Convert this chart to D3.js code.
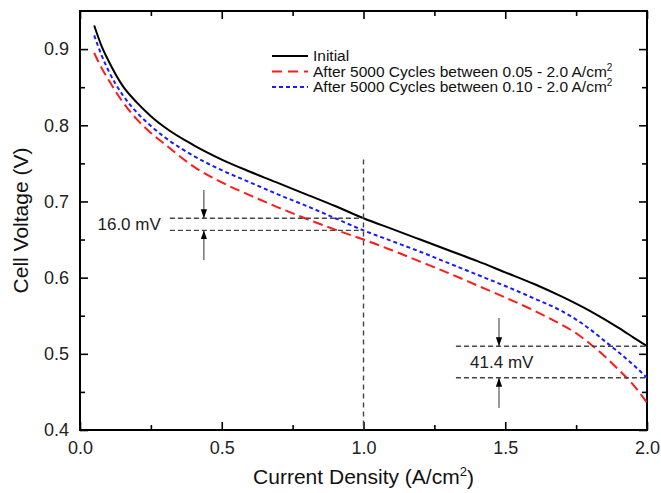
<!DOCTYPE html>
<meta charset="UTF-8">
<html>
<head>
<style>
  body { margin: 0; background: #fff; }
  text { font-family: Arial, "Liberation Sans", sans-serif; }
</style>
</head>
<body>
<svg width="661" height="493"></svg>
<script src="https://d3js.org/d3.v7.min.js"></script>
<script>

// Current density (A/cm2) and cell voltage (V).
var initialX = [0.05, 0.075, 0.1, 0.15, 0.2, 0.25, 0.3, 0.4, 0.5, 0.6, 0.7, 0.8, 0.9, 1.0,
                1.1, 1.2, 1.3, 1.4, 1.5, 1.6, 1.7, 1.8, 1.9, 1.95, 2.0];
var initialV = [0.931, 0.905, 0.885, 0.852, 0.830, 0.812, 0.797, 0.774, 0.755, 0.739, 0.724, 0.709, 0.694, 0.678,
                0.664, 0.650, 0.636, 0.622, 0.607, 0.592, 0.575, 0.556, 0.534, 0.522, 0.510];

var cyc05X = [0.05, 0.075, 0.1, 0.15, 0.2, 0.25, 0.3, 0.4, 0.5, 0.6, 0.7, 0.8, 0.9, 1.0,
              1.1, 1.2, 1.3, 1.4, 1.5, 1.6, 1.7, 1.75, 1.8, 1.85, 1.9, 1.95, 2.0];
var cyc05V = [0.895, 0.876, 0.860, 0.831, 0.808, 0.790, 0.775, 0.746, 0.725, 0.708, 0.692, 0.677, 0.663, 0.650,
              0.636, 0.621, 0.606, 0.590, 0.574, 0.557, 0.538, 0.527, 0.513, 0.497, 0.479, 0.460, 0.436];

var cyc10X = [0.05, 0.075, 0.1, 0.15, 0.2, 0.25, 0.3, 0.4, 0.5, 0.6, 0.7, 0.8, 0.9, 1.0,
              1.1, 1.2, 1.3, 1.4, 1.5, 1.6, 1.7, 1.75, 1.8, 1.85, 1.9, 1.95, 2.0];
var cyc10V = [0.918, 0.893, 0.872, 0.840, 0.817, 0.799, 0.784, 0.760, 0.741, 0.725, 0.709, 0.694, 0.678, 0.662,
              0.648, 0.634, 0.619, 0.604, 0.589, 0.573, 0.556, 0.545, 0.532, 0.517, 0.502, 0.486, 0.4686];

var legendLabels = ["Initial",
                    "After 5000 Cycles between 0.05 - 2.0 A/cm",
                    "After 5000 Cycles between 0.10 - 2.0 A/cm"];

var xTicks = [0.0, 0.5, 1.0, 1.5, 2.0];
var xMinor = [0.25, 0.75, 1.25, 1.75];
var yTicks = [0.4, 0.5, 0.6, 0.7, 0.8, 0.9];
var yMinor = [0.45, 0.55, 0.65, 0.75, 0.85];

// Annotations: voltage loss at 1.0 and 2.0 A/cm2
var drop1 = {x: 1.0, top: 0.678, bottom: 0.662, from: 0.317, arrowX: 0.437, tailTop: 0.715, tailBottom: 0.623, label: "16.0 mV"};
var drop2 = {x: 2.0, top: 0.510, bottom: 0.4686, from: 1.326, arrowX: 1.478, tailTop: 0.547, tailBottom: 0.429, label: "41.4 mV"};
var markerTop = 0.755;

var svg = d3.select("svg");
var margin = {left: 80, right: 14, top: 11, bottom: 63};
var width = +svg.attr("width") - margin.left - margin.right,
    height = +svg.attr("height") - margin.top - margin.bottom;

var x = d3.scaleLinear().domain([0, 2.0]).range([0, width]);
var y = d3.scaleLinear().domain([0.4, 0.95]).range([height, 0]);

var g = svg.append("g").attr("transform", "translate(" + margin.left + "," + margin.top + ")");

// axes, ticks pointing inward
function styleAxis(sel) {
    sel.select(".domain").remove();
    sel.selectAll("line").attr("stroke", "#000").attr("stroke-width", 1.6);
    sel.selectAll("text").attr("font-size", 18).attr("fill", "#222");
}

g.append("g").attr("transform", "translate(0," + height + ")")
    .call(d3.axisBottom(x).tickValues(xTicks).tickSize(-8).tickPadding(11).tickFormat(d3.format(".1f")))
    .call(styleAxis);
g.append("g").attr("transform", "translate(0," + height + ")")
    .call(d3.axisBottom(x).tickValues(xMinor).tickSize(-5).tickFormat(""))
    .call(styleAxis);
g.append("g")
    .call(d3.axisTop(x).tickValues(xTicks).tickSize(-8).tickFormat(""))
    .call(styleAxis);
g.append("g")
    .call(d3.axisTop(x).tickValues(xMinor).tickSize(-5).tickFormat(""))
    .call(styleAxis);

g.append("g")
    .call(d3.axisLeft(y).tickValues(yTicks).tickSize(-8).tickPadding(11).tickFormat(d3.format(".1f")))
    .call(styleAxis);
g.append("g")
    .call(d3.axisLeft(y).tickValues(yMinor).tickSize(-5).tickFormat(""))
    .call(styleAxis);
g.append("g").attr("transform", "translate(" + width + ",0)")
    .call(d3.axisRight(y).tickValues(yTicks).tickSize(-8).tickFormat(""))
    .call(styleAxis);
g.append("g").attr("transform", "translate(" + width + ",0)")
    .call(d3.axisRight(y).tickValues(yMinor).tickSize(-5).tickFormat(""))
    .call(styleAxis);

g.append("rect")
    .attr("width", width).attr("height", height)
    .attr("fill", "none").attr("stroke", "#000").attr("stroke-width", 2);

// curves
var line = d3.line().x(function(d) { return x(d[0]); }).y(function(d) { return y(d[1]); }).curve(d3.curveMonotoneX);
var series = [
    {xs: initialX, vs: initialV, color: "#000", dash: null},
    {xs: cyc05X, vs: cyc05V, color: "#ff1a1a", dash: "10,5"},
    {xs: cyc10X, vs: cyc10V, color: "#1a1aff", dash: "4,3"}
];
series.forEach(function(s) {
    g.append("path")
        .datum(d3.zip(s.xs, s.vs))
        .attr("d", line)
        .attr("fill", "none")
        .attr("stroke", s.color)
        .attr("stroke-width", 2)
        .attr("stroke-dasharray", s.dash);
});

// reference dashed lines
var refColor = "#444";
g.append("line")
    .attr("x1", x(1.0)).attr("x2", x(1.0))
    .attr("y1", y(markerTop)).attr("y2", y(0.4))
    .attr("stroke", refColor).attr("stroke-width", 1.4).attr("stroke-dasharray", "5,4");

svg.append("defs").append("marker")
    .attr("id", "arrow")
    .attr("viewBox", "0 0 10 10")
    .attr("refX", 10).attr("refY", 5)
    .attr("markerWidth", 9).attr("markerHeight", 9)
    .attr("markerUnits", "userSpaceOnUse")
    .attr("orient", "auto")
    .append("path").attr("d", "M0,1.5L10,5L0,8.5Z").attr("fill", "#000");

[drop1, drop2].forEach(function(d, i) {
    [d.top, d.bottom].forEach(function(v) {
        g.append("line")
            .attr("x1", x(d.from)).attr("x2", x(d.x))
            .attr("y1", y(v)).attr("y2", y(v))
            .attr("stroke", refColor).attr("stroke-width", 1.4).attr("stroke-dasharray", "5,3");
    });
    g.append("line")
        .attr("x1", x(d.arrowX)).attr("x2", x(d.arrowX))
        .attr("y1", y(d.tailTop)).attr("y2", y(d.top))
        .attr("stroke", "#333").attr("stroke-width", 1)
        .attr("marker-end", "url(#arrow)");
    g.append("line")
        .attr("x1", x(d.arrowX)).attr("x2", x(d.arrowX))
        .attr("y1", y(d.tailBottom)).attr("y2", y(d.bottom))
        .attr("stroke", "#333").attr("stroke-width", 1)
        .attr("marker-end", "url(#arrow)");
    var mid = (d.top + d.bottom) / 2;
    g.append("text")
        .attr("x", i == 0 ? x(0.285) : x(1.376))
        .attr("y", y(mid))
        .attr("dy", "0.36em")
        .attr("text-anchor", i == 0 ? "end" : "start")
        .attr("font-size", 17)
        .attr("fill", "#222")
        .text(d.label);
});

// legend
var legend = svg.append("g").attr("transform", "translate(272,56)");
legendLabels.forEach(function(lab, i) {
    var row = legend.append("g").attr("transform", "translate(0," + (i * 15.5) + ")");
    row.append("line")
        .attr("x1", 0).attr("x2", 36)
        .attr("stroke", series[i].color).attr("stroke-width", 2)
        .attr("stroke-dasharray", i == 1 ? "10,6" : (i == 2 ? "4,3" : null));
    var t = row.append("text").attr("x", 41).attr("dy", "0.35em").attr("font-size", 15.5).attr("fill", "#111").text(lab);
    if (i > 0) t.append("tspan").attr("font-size", 10).attr("dy", "-0.6em").text("2");
});

// axis titles
var xt = svg.append("text")
    .attr("x", margin.left + width / 2).attr("y", 484)
    .attr("text-anchor", "middle").attr("font-size", 21).attr("fill", "#111")
    .text("Current Density (A/cm");
xt.append("tspan").attr("font-size", 13).attr("dy", "-0.65em").text("2");
xt.append("tspan").attr("dy", "0.45em").text(")");

svg.append("text")
    .attr("transform", "translate(21," + (margin.top + height / 2) + ") rotate(-90)")
    .attr("text-anchor", "middle").attr("dy", "0.35em")
    .attr("font-size", 21).attr("fill", "#111")
    .text("Cell Voltage (V)");

</script>
</body>
</html>
